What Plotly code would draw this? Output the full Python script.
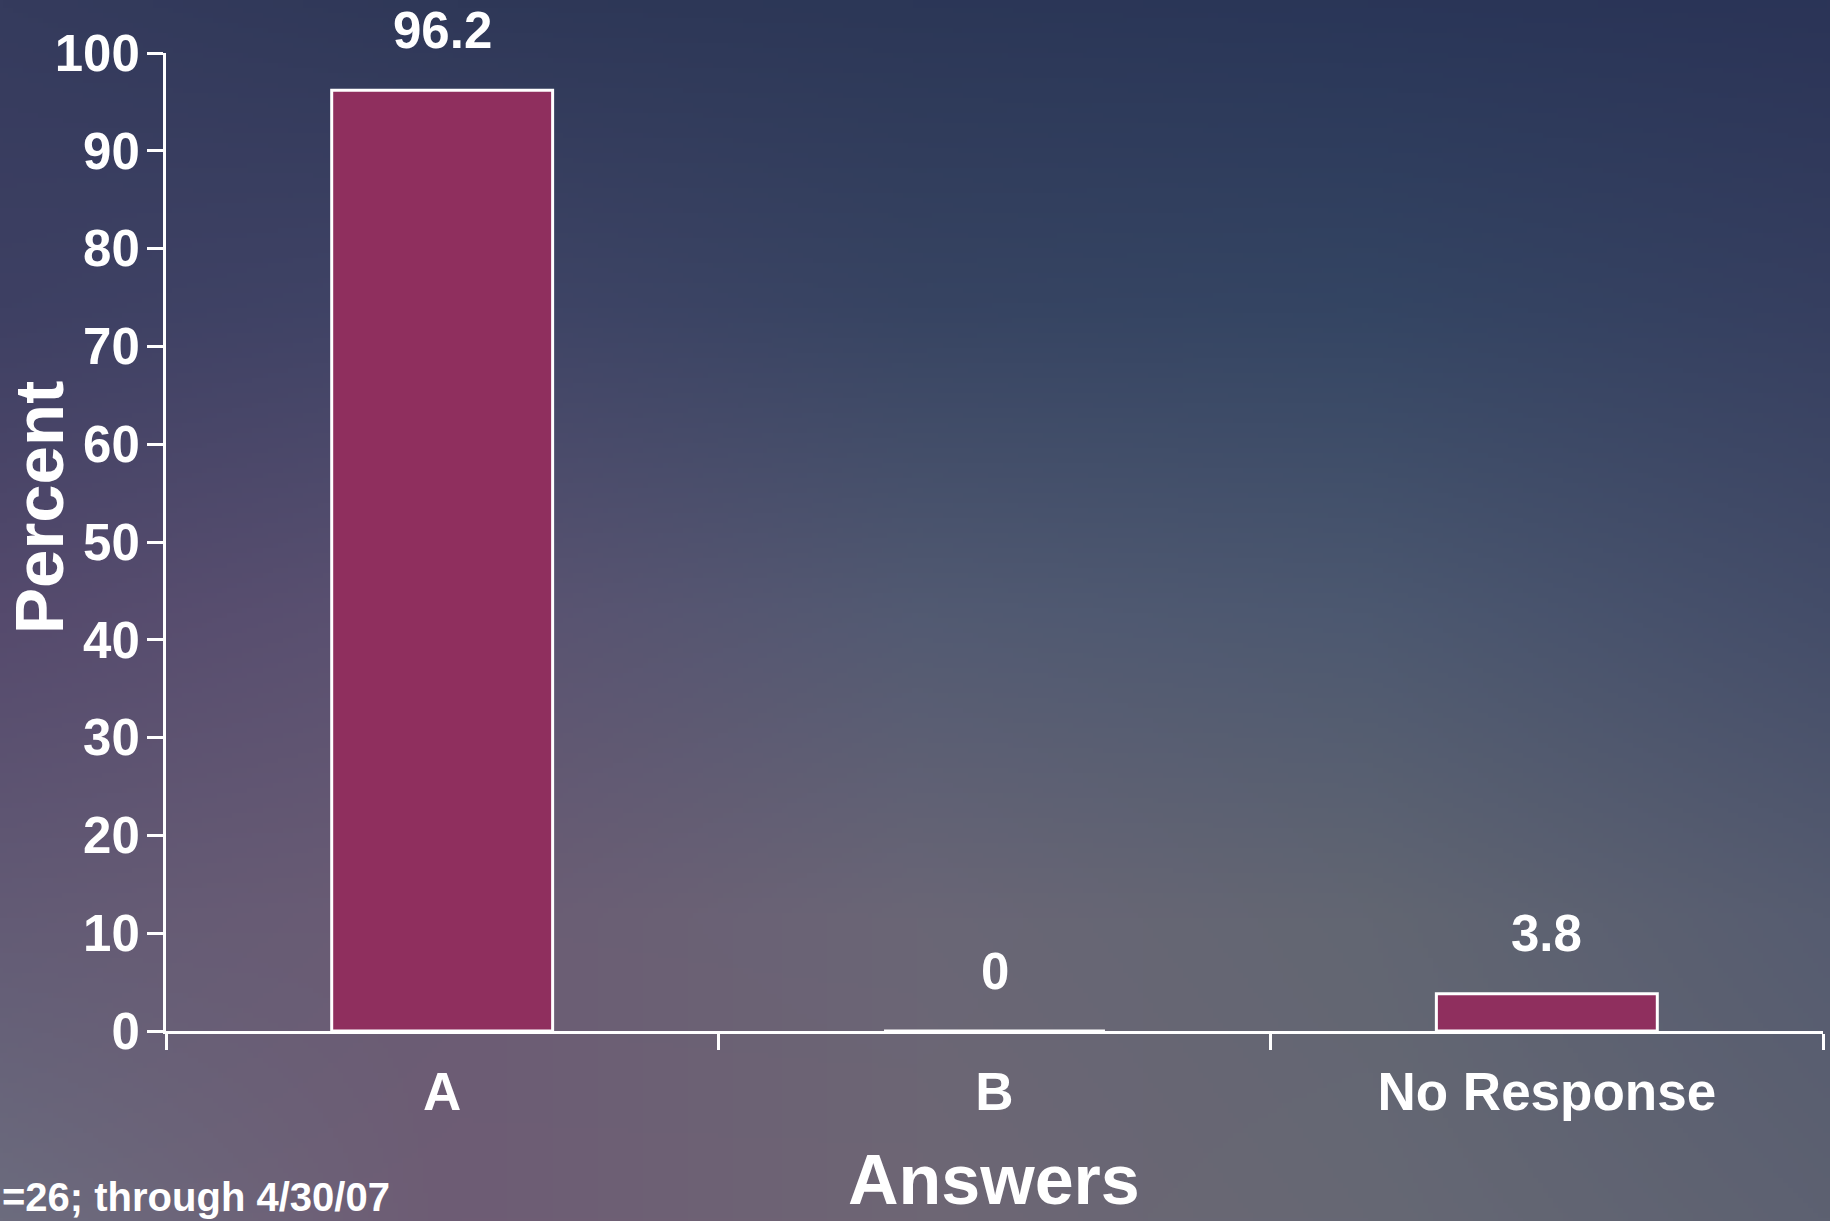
import base64
import struct
import zlib

import numpy as np
import plotly.graph_objects as go

# ---------------- data ----------------
categories = ["A", "B", "No Response"]
percent = [96.2, 0, 3.8]
value_labels = ["96.2", "0", "3.8"]
y_tick_values = list(range(0, 101, 10))
x_title = "Answers"
y_title = "Percent"
footnote = "=26; through 4/30/07"

# ---------------- geometry / style ----------------
W, H = 1830, 1221
ML, MR, MT, MB = 166, 7, 53, 190
PW, PH = W - ML - MR, H - MT - MB
FONT = "Liberation Sans, Arial, Helvetica, sans-serif"
BAR_COLOR = "#8f2f5e"


def px_x(px):
    return (px - ML) / PW


def px_y(py):
    return (H - MB - py) / PH


# background gradient (control grid of colours, bilinear interpolated)
grid_hex = [
    ["#353b5d", "#2f3858", "#2c3757", "#2a3658", "#2b3457"],
    ["#3e4063", "#404466", "#374462", "#344563", "#363f60"],
    ["#554a6d", "#5b5271", "#525a72", "#4c5870", "#444d69"],
    ["#635b75", "#6b5c74", "#6a6676", "#626672", "#565c70"],
    ["#6c6c7e", "#6e5c74", "#6e6674", "#666874", "#5d6171"],
]


def hex2rgb(h):
    h = h.lstrip("#")
    return [int(h[i:i + 2], 16) for i in (0, 2, 4)]


grid = np.array([[hex2rgb(c) for c in row] for row in grid_hex], dtype=float)
gw, gh = 366, 244
cx = np.linspace(0, 1, grid.shape[1])
cy = np.linspace(0, 1, grid.shape[0])
tx = np.linspace(0, 1, gw)
ty = np.linspace(0, 1, gh)
rows = np.zeros((grid.shape[0], gw, 3))
for i in range(grid.shape[0]):
    for c in range(3):
        rows[i, :, c] = np.interp(tx, cx, grid[i, :, c])
img = np.zeros((gh, gw, 3))
for j in range(gw):
    for c in range(3):
        img[:, j, c] = np.interp(ty, cy, rows[:, j, c])
img = np.clip(img, 0, 255).astype(np.uint8)


def png_data_uri(arr):
    h, w, _ = arr.shape
    raw = b"".join(b"\x00" + arr[y].tobytes() for y in range(h))

    def chunk(tag, data):
        c = struct.pack(">I", len(data)) + tag + data
        return c + struct.pack(">I", zlib.crc32(tag + data) & 0xFFFFFFFF)

    png = b"\x89PNG\r\n\x1a\n"
    png += chunk(b"IHDR", struct.pack(">IIBBBBB", w, h, 8, 2, 0, 0, 0))
    png += chunk(b"IDAT", zlib.compress(raw, 9))
    png += chunk(b"IEND", b"")
    return "data:image/png;base64," + base64.b64encode(png).decode()


# ---------------- figure ----------------
fig = go.Figure(
    go.Bar(
        x=categories,
        y=percent,
        width=0.4,
        marker=dict(color=BAR_COLOR, line=dict(color="white", width=3)),
        hoverinfo="skip",
    )
)

annotations = []
for cat, val, lab in zip(categories, percent, value_labels):
    annotations.append(dict(
        x=cat, y=val, xref="x", yref="y", text=lab, showarrow=False,
        yanchor="middle", yshift=60,
        font=dict(family=FONT, size=51, color="white", weight="bold"),
    ))

annotations.append(dict(
    x=px_x(994), y=px_y(1180), xref="paper", yref="paper", text=x_title,
    showarrow=False, xanchor="center", yanchor="middle",
    font=dict(family=FONT, size=70, color="white", weight="bold"),
))
annotations.append(dict(
    x=px_x(39), y=px_y(507), xref="paper", yref="paper", text=y_title,
    showarrow=False, xanchor="center", yanchor="middle", textangle=-90,
    font=dict(family=FONT, size=69, color="white", weight="bold"),
))
annotations.append(dict(
    x=px_x(0), y=px_y(1197), xref="paper", yref="paper", text=footnote,
    showarrow=False, xanchor="left", yanchor="middle",
    font=dict(family=FONT, size=40, color="white", weight="bold"),
))

fig.update_layout(
    width=W, height=H,
    margin=dict(l=ML, r=MR, t=MT, b=MB, pad=0),
    paper_bgcolor="#4f5069",
    plot_bgcolor="rgba(0,0,0,0)",
    showlegend=False,
    bargap=0.6,
    annotations=annotations,
    images=[dict(
        source=png_data_uri(img), xref="paper", yref="paper",
        x=px_x(0), y=px_y(0), sizex=W / PW, sizey=H / PH,
        xanchor="left", yanchor="top", sizing="stretch", layer="below",
    )],
)

fig.update_xaxes(
    type="category", categoryorder="array", categoryarray=categories,
    range=[-0.5, 2.5], showgrid=False, zeroline=False,
    showline=True, linecolor="white", linewidth=3,
    ticks="outside", tickson="boundaries", ticklen=16, tickwidth=3, tickcolor="white",
    ticklabelstandoff=12,
    tickfont=dict(family=FONT, size=53, color="white", weight="bold"),
    fixedrange=True,
)
fig.update_yaxes(
    range=[0, 100], tickvals=y_tick_values, showgrid=False, zeroline=False,
    showline=True, linecolor="white", linewidth=3,
    ticks="outside", ticklen=16, tickwidth=3, tickcolor="white",
    ticklabelstandoff=-3,
    tickfont=dict(family=FONT, size=51, color="white", weight="bold"),
    fixedrange=True,
)

fig.write_html(
    "out.html",
    config={"displayModeBar": False},
    post_script="document.body.style.margin='0';document.body.style.overflow='hidden';",
)
